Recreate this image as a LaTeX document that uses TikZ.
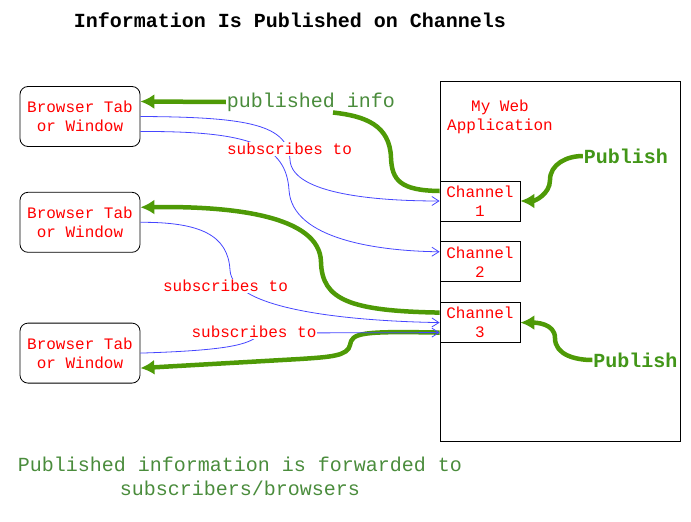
\documentclass[tikz,border=0pt]{standalone}
\usepackage{fontspec}
\setmainfont{Liberation Mono}
\usetikzlibrary{arrows.meta, positioning}

\definecolor{pubgreen}{RGB}{78,154,6}
\definecolor{infogreen}{RGB}{74,140,60}
\definecolor{subblue}{RGB}{70,70,255}

\begin{document}
\begin{tikzpicture}[x=1pt, y=-1pt,
  every node/.style={font=\fontsize{16}{19}\selectfont},
  tab/.style={draw, line width=0.8pt, rounded corners=8pt, minimum width=120pt, minimum height=60pt, align=center, text=red, inner sep=0pt},
  chan/.style={draw, line width=0.8pt, fill=white, minimum width=80pt, minimum height=40pt, align=center, text=red, inner sep=0pt},
  sub/.style={subblue, line width=0.8pt, -{Straight Barb[length=7pt,width=9pt]}},
  publine/.style={pubgreen, line width=4.5pt},
  pub/.style={publine, -{Latex[length=14pt,width=15pt]}},
  sublabel/.style={fill=white, text=red, inner sep=1pt},
  publabel/.style={font=\fontsize{20}{24}\selectfont\bfseries, text=pubgreen!85!teal, fill=white, inner sep=1pt}]
  \useasboundingbox (0,0) rectangle (691,522);

  % Titel
  \node[font=\fontsize{20}{24}\selectfont\bfseries] (title) at (290,20) {Information Is Published on Channels};

  % Browser Tabs
  \node[tab] (tab1) at (80,116.5) {Browser Tab\\or Window};
  \node[tab, below=45pt of tab1] (tab2) {Browser Tab\\or Window};
  \node[tab, below=70pt of tab2] (tab3) {Browser Tab\\or Window};

  % Web Application mit Channels
  \node[draw, line width=0.8pt, minimum width=240pt, minimum height=360pt, inner sep=0pt] (app) at (560,261) {};
  \node[align=center, text=red] (apptext) at (500,116.5) {My Web\\Application};
  \node[chan] (ch1) at (480,201) {Channel\\1};
  \node[chan, below=20pt of ch1] (ch2) {Channel\\2};
  \node[chan, below=20pt of ch2] (ch3) {Channel\\3};

  % Publish
  \node[publabel] (pub1) at (626,156) {Publish};
  \node[publabel] (pub2) at (635.5,360) {Publish};
  \draw[pub] (pub1.west) to[out=180, in=90] (550,180) to[out=-90, in=0] (ch1.east);
  \draw[pub] (pub2.west) to[out=180, in=-90] (555,338) to[out=90, in=0] (ch3.east);

  % Weiterleitung an die Tabs
  \node[font=\fontsize{20}{24}\selectfont, text=infogreen, fill=white, inner sep=1pt] (info) at (311,102) {published info};
  \draw[publine] ([yshift=10pt]ch1.west) .. controls (400,190.5) and (392,180) .. (391,158) .. controls (390,125) and (365,116) .. ([xshift=22pt]info.south);
  \draw[pub] (info.west) -- ([yshift=15pt]tab1.east);
  \draw[pub] ([yshift=10pt]ch3.west) .. controls (350,311) and (322,300) .. (321,262) .. controls (320,215) and (230,206) .. ([yshift=15pt]tab2.east);
  \draw[pub] ([yshift=-10pt]ch3.west) .. controls (360,331) and (352,333) .. (350,345) .. controls (348,356) and (330,357) .. (300,359) -- ([yshift=-15pt]tab3.east);

  % Subscriptions
  \draw[sub] (tab1.east) .. controls (250,117) and (288,125) .. (290,160) .. controls (292,195) and (380,201) .. (ch1.west);
  \draw[sub] ([yshift=-15pt]tab1.east) .. controls (250,131) and (286,145) .. (289,190) .. controls (292,240) and (380,251) .. ([yshift=10pt]ch2.west);
  \draw[sub] (tab2.east) .. controls (200,222) and (228,235) .. (230,270) .. controls (232,310) and (350,321) .. (ch3.west);
  \draw[sub] (tab3.east) .. controls (240,350) and (250,343) .. (262,333) -- ([yshift=-10pt]ch3.west);
  \node[sublabel] (sub1) at (289.5,149) {subscribes to};
  \node[sublabel] (sub2) at (225.5,286) {subscribes to};
  \node[sublabel] (sub3) at (254,332) {subscribes to};

  % Fusszeile
  \node[align=center, font=\fontsize{20}{24}\selectfont, text=infogreen] (forward) at (240,476) {Published information is forwarded to\\subscribers/browsers};
\end{tikzpicture}
\end{document}
